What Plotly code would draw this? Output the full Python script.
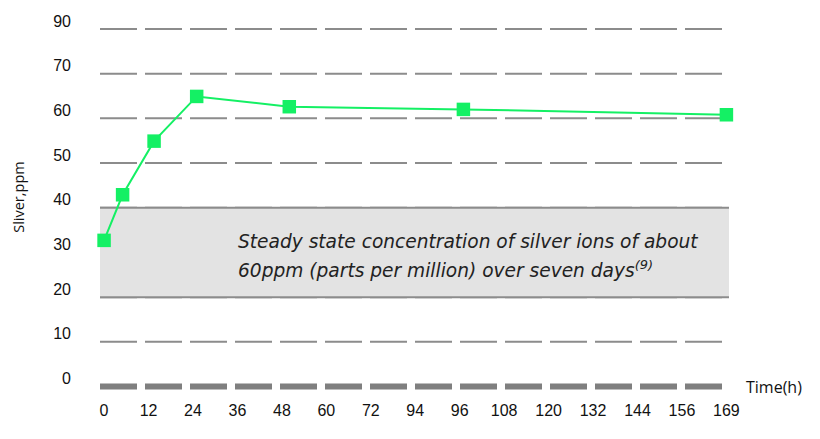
import plotly.graph_objects as go

# ---- data ----
time_h = [0, 5, 13.5, 25, 50, 97, 168]
silver_ppm = [32.7, 42.9, 54.9, 64.9, 62.6, 62.0, 60.8]

x_tick_vals = [0, 12, 24, 36, 48, 60, 72, 84, 96, 108, 120, 132, 144, 156, 168]
x_tick_text = ["0", "12", "24", "36", "48", "60", "72", "94", "96", "108", "120", "132", "144", "156", "169"]
y_tick_vals = [0, 10, 20, 30, 40, 50, 60, 70, 80]
y_tick_text = ["0", "10", "20", "30", "40", "50", "60", "70", "90"]

band_low, band_high = 20, 40
note_line1 = "Steady state concentration of silver ions of about"
note_line2 = "60ppm (parts per million) over seven days<sup>(9)</sup>"

GRID = "#8c8c8c"
GREEN = "#14f064"

fig = go.Figure()
fig.add_trace(go.Scatter(
    x=time_h, y=silver_ppm, mode="lines+markers",
    line=dict(color=GREEN, width=2),
    marker=dict(symbol="square", size=13.5, color=GREEN),
    cliponaxis=False, showlegend=False, hoverinfo="x+y",
))

shapes = []
# dashed gridlines (drawn as shapes so the band can cover them)
for v in y_tick_vals:
    if v == 0:
        continue
    shapes.append(dict(type="line", xref="paper", x0=0, x1=1, yref="y", y0=v, y1=v,
                       line=dict(color=GRID, width=2, dash="37px,8px"), layer="below"))
shapes += [
    dict(type="rect", xref="paper", x0=0, x1=1, yref="y", y0=band_low, y1=band_high,
         fillcolor="#e3e3e3", line=dict(width=0), layer="below"),
    dict(type="line", xref="paper", x0=0, x1=1, yref="y", y0=band_low, y1=band_low,
         line=dict(color=GRID, width=2), layer="below"),
    dict(type="line", xref="paper", x0=0, x1=1, yref="y", y0=band_high, y1=band_high,
         line=dict(color=GRID, width=2), layer="below"),
    dict(type="line", xref="paper", x0=0, x1=1, yref="y", y0=0, y1=0,
         line=dict(color="#7f7f7f", width=6, dash="37px,8px"), layer="below"),
]

note_font = dict(family="DejaVu Sans", size=18.6, color="#222222", style="italic")
tick_font = dict(family="Liberation Sans", size=16, color="#111111")
annotations = [
    dict(text=note_line1, x=35.6, y=32.5, xref="x", yref="y", xanchor="left", yanchor="middle",
         showarrow=False, font=note_font),
    dict(text=note_line2, x=35.6, y=26.3, xref="x", yref="y", xanchor="left", yanchor="middle",
         showarrow=False, font=note_font),
    dict(text="Time(h)", x=1.024, y=0, xref="paper", yref="y", xanchor="left", yanchor="middle",
         showarrow=False, font=dict(family="Open Sans", size=16, color="#111111")),
    dict(text="Sliver,ppm", x=-0.13, y=42.5, xref="paper", yref="y", xanchor="center", yanchor="middle",
         textangle=-90, showarrow=False, font=dict(family="Open Sans", size=14.5, color="#111111")),
]

fig.update_layout(
    width=820, height=439,
    margin=dict(l=100, r=91, t=20, b=48),
    paper_bgcolor="white", plot_bgcolor="white",
    shapes=shapes, annotations=annotations,
    xaxis=dict(range=[-1.1, 168.7], tickvals=x_tick_vals, ticktext=x_tick_text,
               showgrid=False, zeroline=False, showline=False, ticks="", automargin=False,
               tickfont=tick_font, ticklabelstandoff=8),
    yaxis=dict(range=[-1, 82], tickvals=y_tick_vals, ticktext=y_tick_text,
               showgrid=False, zeroline=False, showline=False, ticks="", automargin=False,
               tickfont=tick_font, ticklabelstandoff=28, ticklabelshift=-8),
)

fig.write_html("out.html", config={"displayModeBar": False},
               post_script="document.body.style.margin='0';document.body.style.overflow='hidden';")
